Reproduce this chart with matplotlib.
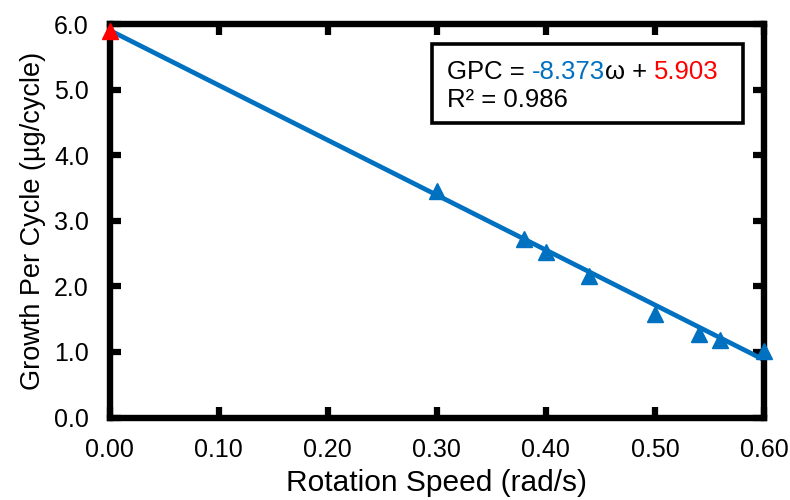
import numpy as np
import matplotlib
matplotlib.use("Agg")
import matplotlib.pyplot as plt
from matplotlib.offsetbox import TextArea, HPacker, VPacker, AnchoredOffsetbox, DrawingArea

plt.rcParams['font.family'] = ['Liberation Sans', 'DejaVu Sans']

# data
speed = [0.30, 0.38, 0.40, 0.44, 0.50, 0.54, 0.56, 0.60]
gpc = [3.45, 2.72, 2.52, 2.15, 1.58, 1.28, 1.18, 1.02]
speed0 = [0.0]
gpc0 = [5.90]
slope = -8.373
intercept = 5.903
r2 = 0.986
xticks = [0.0, 0.1, 0.2, 0.3, 0.4, 0.5, 0.6]
yticks = [0.0, 1.0, 2.0, 3.0, 4.0, 5.0, 6.0]

blue = '#0070C0'
red = '#FF0000'

fig, ax = plt.subplots(figsize=(7.9, 5.0), dpi=100)
fig.subplots_adjust(left=0.139, right=0.967, top=0.952, bottom=0.165)

fit_x = np.array([0.0, 0.6])
ax.plot(fit_x, slope * fit_x + intercept, color=blue, lw=3.4, zorder=2, clip_on=False)
ax.plot(speed, gpc, '^', color=blue, ms=11.5, mew=1, zorder=3, clip_on=False)
ax.plot(speed0, gpc0, '^', color=red, ms=11.5, mew=1, zorder=4, clip_on=False)

ax.set_xlim(0, 0.6)
ax.set_ylim(0, 6.0)
ax.set_xticks(xticks)
ax.set_xticklabels([f'{v:.2f}' for v in xticks])
ax.set_yticks(yticks)
ax.set_yticklabels([f'{v:.1f}' for v in yticks])
ax.tick_params(direction='in', length=8, width=4.5, labelsize=18, top=True, right=True)
ax.tick_params(axis='x', pad=15)
ax.tick_params(axis='y', pad=15)
for s in ax.spines.values():
    s.set_linewidth(4.6)

ax.set_xlabel('Rotation Speed (rad/s)', fontsize=21.5, labelpad=5)
ax.set_ylabel('Growth Per Cycle (µg/cycle)', fontsize=19.5, labelpad=6)

fs = 18.5
line1 = HPacker(children=[
    DrawingArea(3, 1),
    TextArea('GPC = ', textprops=dict(color='black', fontsize=fs)),
    TextArea(f'{slope:.3f}', textprops=dict(color=blue, fontsize=fs)),
    TextArea('ω + ', textprops=dict(color='black', fontsize=fs)),
    TextArea(f'{intercept:.3f}', textprops=dict(color=red, fontsize=fs)),
    DrawingArea(10, 1),
], align='baseline', pad=0, sep=0)
line2 = HPacker(children=[
    DrawingArea(3, 1),
    TextArea(f'R² = {r2:.3f}', textprops=dict(color='black', fontsize=fs)),
], align='baseline', pad=0, sep=0)
box = VPacker(children=[DrawingArea(1, 1), line1, line2], align='left', pad=0, sep=3)
anch = AnchoredOffsetbox(loc='upper right', child=box, pad=0.75, frameon=True,
                         bbox_to_anchor=(0.968, 0.949), bbox_transform=ax.transAxes,
                         borderpad=0)
anch.patch.set_linewidth(2.6)
anch.patch.set_edgecolor('black')
ax.add_artist(anch)

fig.savefig('out.png', dpi=100)
